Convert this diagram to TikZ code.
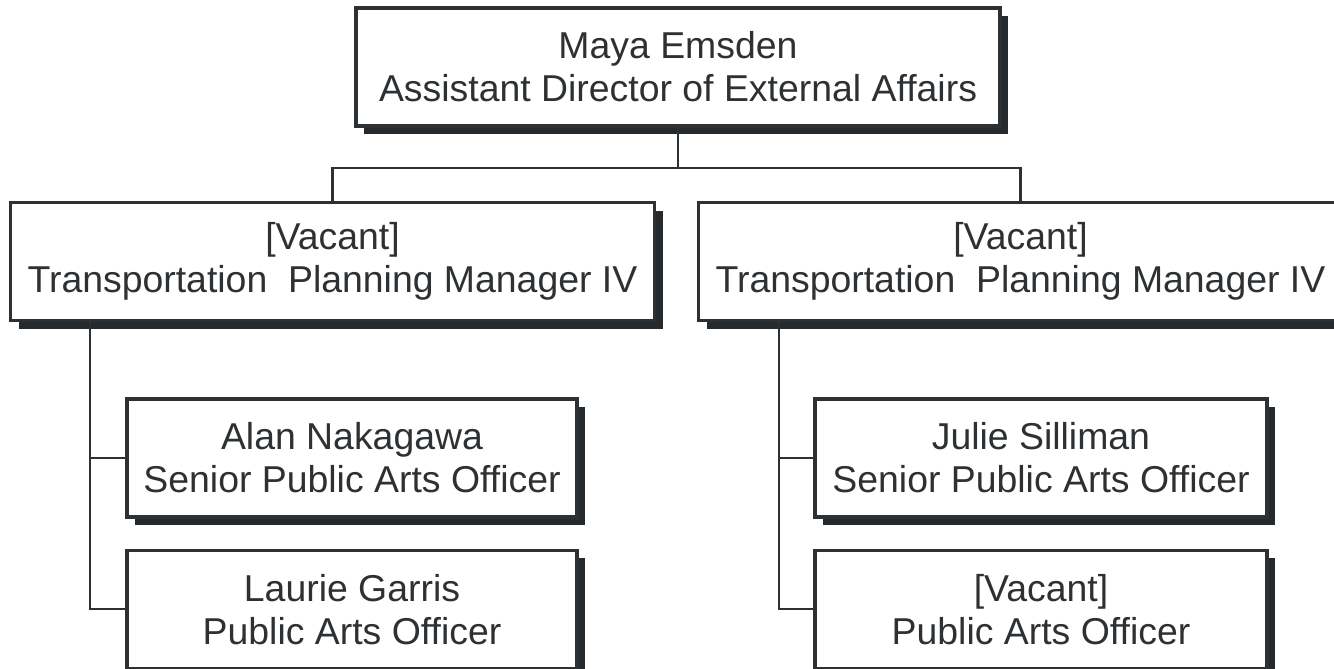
\documentclass[tikz,border=0pt]{standalone}
\usepackage{fontspec}
\setmainfont{Liberation Sans}
\usetikzlibrary{positioning,shadows}
\usepackage{xcolor}
\definecolor{ink}{HTML}{2E3133}
\definecolor{shade}{HTML}{262A2C}
\tikzset{
  every node/.style={font=\fontsize{18.7}{21.5}\selectfont,text=ink},
  box/.style={draw=ink,line width=1.6pt,fill=white,align=center,inner sep=0pt,
    minimum height=59pt,
    drop shadow={shadow xshift=4pt,shadow yshift=-4pt,fill=shade,opacity=1}},
  headbox/.style={box,minimum width=322pt},
  mgrbox/.style={box,minimum width=322pt},
  staffbox/.style={box,minimum width=225pt},
  link/.style={draw=ink,line width=1.2pt},
}

\begin{document}
\begin{tikzpicture}[x=0.5pt,y=-0.5pt]
\useasboundingbox (0,0) rectangle (1334,669);

% --- director
\node[headbox] (dir) at (678,67) {Maya Emsden\\Assistant Director of External Affairs};

% --- managers
\node[mgrbox] (mgrA) at (332.5,261.5) {[Vacant]\\Transportation\ \ Planning Manager IV};
\node[mgrbox] (mgrB) at (1020.5,261.5) {[Vacant]\\Transportation\ \ Planning Manager IV};

% --- staff
\node[staffbox] (nakagawa) at (352,458) {Alan Nakagawa\\Senior Public Arts Officer};
\node[staffbox,below=15pt of nakagawa] (garris) {Laurie Garris\\Public Arts Officer};
\node[staffbox,minimum width=226pt] (silliman) at (1041,458) {Julie Silliman\\Senior Public Arts Officer};
\node[staffbox,minimum width=226pt,below=15pt of silliman] (vacpao) {[Vacant]\\Public Arts Officer};

% --- links
\coordinate (bus) at (678,168);
\draw[link] (dir.south) -- (bus);
\draw[link] (mgrA.north) |- (bus) -| (mgrB.north);

\coordinate (spineA) at (90,320);
\coordinate (spineB) at (779,320);
\draw[link] (spineA) |- (garris.west);
\draw[link] (spineA |- nakagawa.west) -- (nakagawa.west);
\draw[link] (spineB) |- (vacpao.west);
\draw[link] (spineB |- silliman.west) -- (silliman.west);

\end{tikzpicture}
\end{document}
